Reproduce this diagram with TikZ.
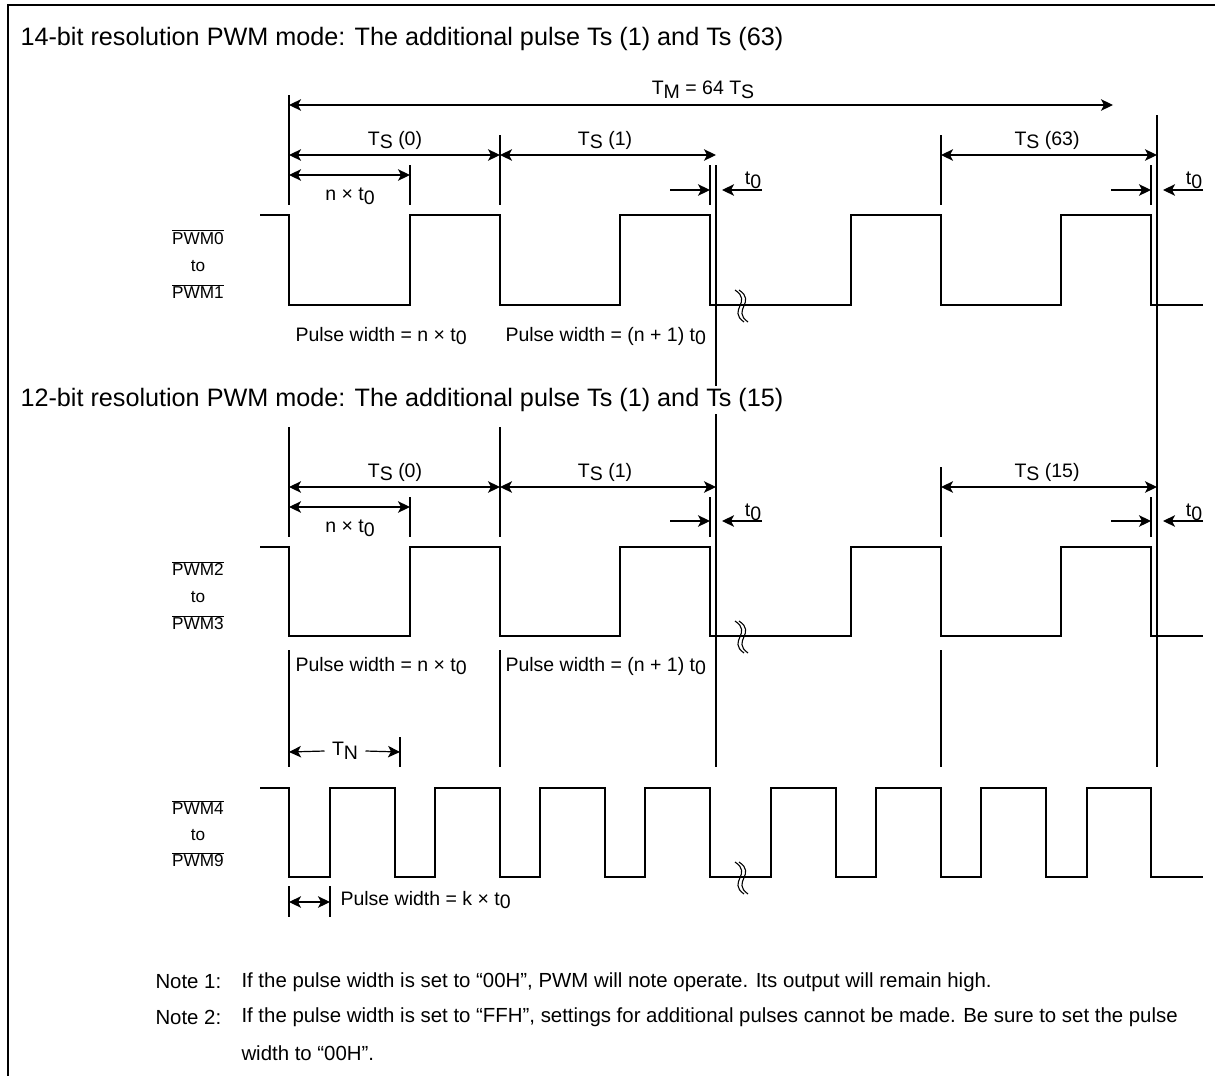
\documentclass[tikz,border=0pt]{standalone}
\usepackage{fontspec}
\setmainfont{Liberation Sans}
\usetikzlibrary{arrows.meta, positioning, calc}
\newcommand{\tsub}[1]{\raisebox{-.38ex}{#1}}
\tikzset{
  every picture/.style={line width=1pt, x=1pt, y=-1pt},
  frameline/.style={line width=2pt},
  wave/.style={line width=2pt, line join=miter},
  guide/.style={line width=1.1pt},
  dim/.style={{Stealth[length=12pt, width=11.5pt, inset=3pt]}-{Stealth[length=12pt, width=11.5pt, inset=3pt]}, line width=1.2pt},
  dimr/.style={-{Stealth[length=12pt, width=11.5pt, inset=3pt]}, line width=1.2pt},
  title/.style={font=\fontsize{25.2}{28}\selectfont, anchor=west, inner sep=0pt},
  label/.style={font=\fontsize{19.5}{22}\selectfont, inner sep=0pt},
  signame/.style={font=\fontsize{17.2}{#1}\selectfont, align=center, inner sep=0pt},
  note/.style={font=\fontsize{20.4}{24}\selectfont, anchor=west, inner sep=0pt},
  gapmark/.pic={
    \draw[guide] (-6,-16) .. controls (12,-4) and (-14,4) .. (3,16);
    \draw[guide] (-2,-16) .. controls (16,-4) and (-10,4) .. (7,16);
  },
}
\begin{document}
\begin{tikzpicture}
  \useasboundingbox (0,0) rectangle (1215,1076);
  \draw[frameline] (1215,5) -- (8,5) -- (8,1076);

  % long guides first, the second title sits on them
  \draw[guide] (716,165) -- (716,767);
  \draw[guide] (1157,115) -- (1157,767);
  \node[title, fill=white, inner ysep=2pt] (head2) at (20,400) {12-bit resolution PWM mode: The additional pulse Ts (1) and Ts (15)};
  \node[title] (head1) at (20,39) {14-bit resolution PWM mode: The additional pulse Ts (1) and Ts (63)};

  % 14-bit
  \draw[wave] (260,215) -- (289,215) -- (289,305) -- (410,305) -- (410,215) -- (500,215) -- (500,305) -- (620,305) -- (620,215)
    -- (710,215) -- (710,305) -- (851,305) -- (851,215) -- (941,215) -- (941,305) -- (1061,305) -- (1061,215) -- (1151,215) -- (1151,305) -- (1203,305);
  \draw[guide] (289,95) -- (289,205);
  \draw[guide] (410,165) -- (410,205);
  \draw[guide] (500,135) -- (500,205);
  \draw[guide] (710,165) -- (710,205);
  \draw[guide] (941,135) -- (941,205);
  \draw[guide] (1151,165) -- (1151,205);
  \coordinate (m0) at (289,105); \coordinate (m1) at (1113,105);
  \coordinate (a0) at (289,155); \coordinate (a1) at (500,155); \coordinate (a2) at (716,155);
  \coordinate (a3) at (941,155); \coordinate (a4) at (1157,155);
  \coordinate (n0) at (289,175); \coordinate (n1) at (410,175);
  \draw[dim] (m0) -- (m1);
  \draw[dim] (a0) -- (a1); \draw[dim] (a1) -- (a2); \draw[dim] (a3) -- (a4);
  \draw[dim] (n0) -- (n1);
  \node[label] (tm) at (703,90) {T\tsub{M} = 64 T\tsub{S}};
  \node[label] (ts0) at (395,140) {T\tsub{S} (0)};
  \node[label] (ts1) at (605,140) {T\tsub{S} (1)};
  \node[label] (ts63) at (1047,140) {T\tsub{S} (63)};
  \node[label] (nt) at (350,196) {n × t\tsub{0}};
  \coordinate (b0) at (670,190); \coordinate (b1) at (710,190); \coordinate (b2) at (762,190); \coordinate (b3) at (722,190);
  \coordinate (c0) at (1111,190); \coordinate (c1) at (1151,190); \coordinate (c2) at (1203,190); \coordinate (c3) at (1163,190);
  \draw[dimr] (b0) -- (b1); \draw[dimr] (b2) -- (b3);
  \draw[dimr] (c0) -- (c1); \draw[dimr] (c2) -- (c3);
  \node[label] (t0a) at (753,180) {t\tsub{0}};
  \node[label] (t0b) at (1194,180) {t\tsub{0}};
  \pic at (741,306) {gapmark};
  \node[signame=27] (sig1) at (198,264) {$\overline{\mbox{PWM0}}$\\to\\$\overline{\mbox{PWM1}}$};
  \node[label, anchor=west] (pw1) at (295,336) {Pulse width = n × t\tsub{0}};
  \node[label, anchor=west] (pw2) at (505,336) {Pulse width = (n + 1) t\tsub{0}};

  % 12-bit
  \draw[wave] (260,547) -- (289,547) -- (289,636) -- (410,636) -- (410,547) -- (500,547) -- (500,636) -- (620,636) -- (620,547)
    -- (710,547) -- (710,636) -- (851,636) -- (851,547) -- (941,547) -- (941,636) -- (1061,636) -- (1061,547) -- (1151,547) -- (1151,636) -- (1203,636);
  \draw[guide] (289,427) -- (289,537);
  \draw[guide] (410,497) -- (410,537);
  \draw[guide] (500,427) -- (500,537);
  \draw[guide] (710,497) -- (710,537);
  \draw[guide] (941,467) -- (941,537);
  \draw[guide] (1151,497) -- (1151,537);
  \draw[guide] (289,650) -- (289,767);
  \draw[guide] (500,650) -- (500,767);
  \draw[guide] (941,650) -- (941,767);
  \coordinate (d0) at (289,487); \coordinate (d1) at (500,487); \coordinate (d2) at (716,487);
  \coordinate (d3) at (941,487); \coordinate (d4) at (1157,487);
  \coordinate (e0) at (289,507); \coordinate (e1) at (410,507);
  \draw[dim] (d0) -- (d1); \draw[dim] (d1) -- (d2); \draw[dim] (d3) -- (d4);
  \draw[dim] (e0) -- (e1);
  \node[label] (us0) at (395,472) {T\tsub{S} (0)};
  \node[label] (us1) at (605,472) {T\tsub{S} (1)};
  \node[label] (us15) at (1047,472) {T\tsub{S} (15)};
  \node[label] (mt) at (350,528) {n × t\tsub{0}};
  \coordinate (f0) at (670,521); \coordinate (f1) at (710,521); \coordinate (f2) at (762,521); \coordinate (f3) at (722,521);
  \coordinate (g0) at (1111,521); \coordinate (g1) at (1151,521); \coordinate (g2) at (1203,521); \coordinate (g3) at (1163,521);
  \draw[dimr] (f0) -- (f1); \draw[dimr] (f2) -- (f3);
  \draw[dimr] (g0) -- (g1); \draw[dimr] (g2) -- (g3);
  \node[label] (t0c) at (753,512) {t\tsub{0}};
  \node[label] (t0d) at (1194,512) {t\tsub{0}};
  \pic at (741,637) {gapmark};
  \node[signame=27] (sig2) at (198,596) {$\overline{\mbox{PWM2}}$\\to\\$\overline{\mbox{PWM3}}$};
  \node[label, anchor=west] (pw3) at (295,666) {Pulse width = n × t\tsub{0}};
  \node[label, anchor=west] (pw4) at (505,666) {Pulse width = (n + 1) t\tsub{0}};

  % noise
  \draw[wave] (260,788) -- (289,788) -- (289,877) -- (330,877) -- (330,788) -- (395,788) -- (395,877) -- (435,877) -- (435,788)
    -- (500,788) -- (500,877) -- (540,877) -- (540,788) -- (605,788) -- (605,877) -- (645,877) -- (645,788) -- (710,788) -- (710,877)
    -- (771,877) -- (771,788) -- (836,788) -- (836,877) -- (876,877) -- (876,788) -- (941,788) -- (941,877) -- (981,877) -- (981,788)
    -- (1046,788) -- (1046,877) -- (1087,877) -- (1087,788) -- (1151,788) -- (1151,877) -- (1203,877);
  \draw[guide] (400,737) -- (400,767);
  \draw[guide] (289,886) -- (289,917);
  \draw[guide] (330,886) -- (330,917);
  \coordinate (h0) at (289,752); \coordinate (h1) at (400,752);
  \coordinate (k0) at (289,902); \coordinate (k1) at (330,902);
  \node[label, minimum width=40pt] (tn) at (345,751) {T\tsub{N}};
  \draw[dimr] (tn.west) -- (h0); \draw[dimr] (tn.east) -- (h1);
  \draw[dim] (k0) -- (k1);
  \pic at (741,878) {gapmark};
  \node[signame=26] (sig3) at (198,834) {$\overline{\mbox{PWM4}}$\\to\\$\overline{\mbox{PWM9}}$};
  \node[label, anchor=west] (pw5) at (340,900) {Pulse width = k × t\tsub{0}};

  % notes
  \node[note] (n1a) at (155,982) {Note 1:};
  \node[note] (n1b) at (241,982) {If the pulse width is set to “00H”, PWM will note operate. Its output will remain high.};
  \node[note] (n2a) at (155,1017) {Note 2:};
  \node[note] (n2b) at (241,1017) {If the pulse width is set to “FFH”, settings for additional pulses cannot be made. Be sure to set the pulse};
  \node[note] (n3b) at (241,1053) {width to “00H”.};
\end{tikzpicture}
\end{document}
